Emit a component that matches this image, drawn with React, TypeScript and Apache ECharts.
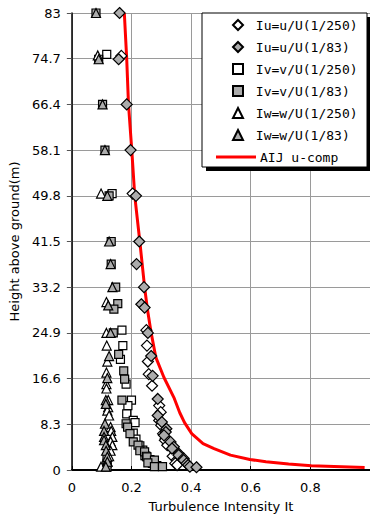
import React, { useEffect, useRef } from "react";
import * as echarts from "echarts";

// Axis ticks
const xTicks = [0, 0.2, 0.4, 0.6, 0.8, 1.0];
const yTicks = [0, 8.3, 16.6, 24.9, 33.2, 41.5, 49.8, 58.1, 66.4, 74.7, 83];

// Measured profiles: [turbulence intensity, height (m)]
const iu250: [number, number][] = [
  [0.166, 75.2], [0.204, 50.2], [0.25, 25.4], [0.252, 22.6], [0.255, 19.7],
  [0.258, 17.4], [0.269, 15.3], [0.293, 11.7], [0.298, 10.5], [0.293, 9.0],
  [0.3, 8.1], [0.306, 6.6], [0.315, 5.7], [0.312, 5.4], [0.32, 4.5],
  [0.347, 3.3], [0.338, 2.5], [0.352, 1.8], [0.347, 1.2], [0.353, 0.9],
];
const iu83: [number, number][] = [
  [0.16, 83], [0.157, 74.6], [0.184, 66.4], [0.197, 58.1], [0.215, 49.8],
  [0.226, 41.5], [0.217, 37.4], [0.242, 33.2], [0.233, 30.1], [0.244, 29.5],
  [0.255, 24.9], [0.266, 20.7], [0.271, 17.1], [0.288, 12.9], [0.288, 9.9],
  [0.302, 8.7], [0.317, 7.5], [0.315, 6.9], [0.309, 6.3], [0.331, 5.1],
  [0.342, 4.2], [0.336, 3.9], [0.358, 3.0], [0.358, 2.7], [0.375, 2.1],
  [0.375, 1.8], [0.385, 1.2], [0.39, 0.9], [0.396, 0.6], [0.418, 0.5],
];
const iv250: [number, number][] = [
  [0.117, 75.5], [0.135, 50.2], [0.168, 25.4], [0.171, 22.6], [0.163, 20.1],
  [0.182, 15.6], [0.2, 12.7], [0.188, 11.7], [0.184, 10.2], [0.206, 9.0],
  [0.212, 8.6], [0.206, 6.7], [0.215, 5.6], [0.228, 4.4], [0.238, 3.6],
  [0.245, 2.6], [0.262, 1.9], [0.27, 1.2], [0.285, 0.8],
];
const iv83: [number, number][] = [
  [0.081, 83], [0.09, 74.6], [0.103, 66.4], [0.111, 58.1], [0.125, 49.8],
  [0.132, 41.5], [0.132, 37.4], [0.147, 33.2], [0.154, 30.2], [0.141, 29.2],
  [0.139, 24.9], [0.157, 21.0], [0.174, 18.0], [0.177, 16.5], [0.168, 12.7],
  [0.182, 8.4], [0.187, 7.8], [0.195, 6.6], [0.206, 5.1], [0.222, 4.5],
  [0.228, 3.5], [0.244, 3.3], [0.25, 2.5], [0.252, 2.4], [0.277, 1.8],
  [0.255, 1.3], [0.277, 0.6], [0.304, 0.6], [0.118, 2.0], [0.118, 1.2],
  [0.118, 0.5],
];
const iw250: [number, number][] = [
  [0.087, 75.3], [0.098, 50.2], [0.116, 30.5], [0.116, 24.9], [0.117, 22.6],
  [0.119, 19.7], [0.116, 17.7], [0.116, 15.6], [0.116, 14.8], [0.122, 12.7],
  [0.122, 11.4], [0.119, 10.8], [0.125, 9.9], [0.13, 7.8], [0.132, 7.1],
  [0.136, 6.0], [0.13, 5.2], [0.136, 4.5], [0.13, 3.5], [0.125, 2.5],
  [0.12, 1.5], [0.098, 0.6],
];
const iw83: [number, number][] = [
  [0.081, 83], [0.09, 74.6], [0.103, 66.4], [0.111, 58.1], [0.119, 49.8],
  [0.125, 41.5], [0.13, 37.4], [0.136, 33.2], [0.122, 29.9], [0.13, 24.9],
  [0.125, 20.7], [0.119, 16.7], [0.114, 12.7], [0.114, 12.0], [0.111, 8.4],
  [0.108, 7.1], [0.108, 6.0], [0.108, 5.4], [0.114, 4.5], [0.115, 3.5],
  [0.119, 2.4], [0.119, 1.5], [0.114, 0.6],
];

// AIJ recommended profile (u-component)
const aijName = "AIJ u-comp";
const aij: [number, number][] = [
  [0.176, 83], [0.184, 74.7], [0.19, 66.4], [0.201, 58.1], [0.211, 49.8],
  [0.228, 41.5], [0.244, 33.2], [0.254, 29], [0.266, 24.9], [0.282, 20.4],
  [0.309, 16.8], [0.342, 13.2], [0.362, 10.4], [0.378, 8.6], [0.402, 6.6],
  [0.44, 4.8], [0.477, 3.9], [0.532, 2.7], [0.597, 1.9], [0.651, 1.5],
  [0.727, 1.1], [0.803, 0.78], [0.982, 0.47],
];

const GRAY = "#acacac";
const RED = "#ff0000";
const LABEL_FONT = "DejaVu Sans";
const LEGEND_FONT = "DejaVu Sans Mono";

const scatterDefs = [
  { name: "Iu=u/U(1/250)", data: iu250, symbol: "diamond", size: 11, fill: "#ffffff" },
  { name: "Iu=u/U(1/83)", data: iu83, symbol: "diamond", size: 11, fill: GRAY },
  { name: "Iv=v/U(1/250)", data: iv250, symbol: "rect", size: 8, fill: "#ffffff" },
  { name: "Iv=v/U(1/83)", data: iv83, symbol: "rect", size: 8, fill: GRAY },
  { name: "Iw=w/U(1/250)", data: iw250, symbol: "triangle", size: 9, fill: "#ffffff" },
  { name: "Iw=w/U(1/83)", data: iw83, symbol: "triangle", size: 9, fill: GRAY },
];

const fmt = (v: number) => {
  const s = (Math.round(v * 10) / 10).toFixed(1);
  return s.endsWith(".0") ? s.slice(0, -2) : s;
};

export default function App() {
  const ref = useRef<HTMLDivElement>(null);

  useEffect(() => {
    if (!ref.current) return;
    const chart = echarts.init(ref.current, undefined, { renderer: "svg" });

    const legendText = { fontFamily: LEGEND_FONT, fontSize: 13, color: "#000", lineHeight: 14 };

    const option: any = {
      animation: false,
      backgroundColor: "#ffffff",
      grid: { left: 67, right: -4, top: 13, bottom: 45, containLabel: false },
      xAxis: {
        type: "value",
        min: xTicks[0],
        max: xTicks[xTicks.length - 1],
        interval: xTicks[1] - xTicks[0],
        name: "Turbulence Intensity It",
        nameLocation: "middle",
        nameGap: 30,
        nameTextStyle: { fontFamily: LABEL_FONT, fontSize: 13, color: "#000" },
        axisLine: { show: true, onZero: false, lineStyle: { color: "#000", width: 2 } },
        axisTick: { show: true, inside: true, length: 4, lineStyle: { color: "#000" } },
        axisLabel: {
          showMaxLabel: false,
          margin: 11,
          fontFamily: LABEL_FONT,
          fontSize: 13,
          color: "#000",
          formatter: (v: number) => fmt(v),
        },
        splitLine: { show: true, lineStyle: { color: "#9a9a9a", width: 1 } },
      },
      yAxis: {
        type: "value",
        min: yTicks[0],
        max: yTicks[yTicks.length - 1],
        interval: yTicks[1] - yTicks[0],
        name: "Height above ground(m)",
        nameLocation: "middle",
        nameGap: 42,
        nameTextStyle: { fontFamily: LABEL_FONT, fontSize: 13, color: "#000" },
        axisLine: { show: true, onZero: false, lineStyle: { color: "#000", width: 1.5 } },
        axisTick: { show: true, inside: false, length: 5, lineStyle: { color: "#555" } },
        axisLabel: {
          margin: 11,
          fontFamily: LABEL_FONT,
          fontSize: 13,
          color: "#000",
          formatter: (v: number) => fmt(v),
        },
        splitLine: { show: true, lineStyle: { color: "#9a9a9a", width: 1 } },
      },
      legend: {
        orient: "vertical",
        left: 232,
        top: 18,
        padding: 0,
        itemWidth: 10,
        itemHeight: 10,
        itemGap: 8,
        selectedMode: false,
        z: 8,
        textStyle: legendText,
        formatter: (name: string) => " " + name,
        data: scatterDefs.map((d) => ({ name: d.name, icon: d.symbol })),
      },
      graphic: [
        {
          type: "rect",
          z: 5,
          shape: { x: 206, y: 17, width: 165, height: 154 },
          style: { fill: "#000" },
        },
        {
          type: "rect",
          z: 6,
          shape: { x: 202, y: 13, width: 165, height: 154 },
          style: { fill: "#fff", stroke: "#000", lineWidth: 1 },
        },
        // legend entry for the AIJ curve
        {
          type: "line",
          z: 8,
          shape: { x1: 216, y1: 157, x2: 256, y2: 157 },
          style: { stroke: RED, lineWidth: 3 },
        },
        {
          type: "text",
          z: 8,
          x: 260,
          y: 157,
          style: {
            text: aijName,
            fill: "#000",
            font: `13px "${LEGEND_FONT}"`,
            verticalAlign: "middle",
            align: "left",
          },
        },
      ],
      series: [
        {
          name: aijName,
          type: "line",
          data: aij,
          symbol: "none",
          z: 1,
          lineStyle: { color: RED, width: 3 },
          itemStyle: { color: RED },
        },
        ...scatterDefs.map((d) => ({
          name: d.name,
          type: "scatter",
          data: d.data,
          symbol: d.symbol,
          symbolSize: d.size,
          z: 3,
          itemStyle: { color: d.fill, borderColor: "#000", borderWidth: 1.2, opacity: 1 },
        })),
      ],
    };

    chart.setOption(option);
    return () => chart.dispose();
  }, []);

  return (
    <div
      ref={ref}
      style={{ position: "absolute", left: 0, top: 0, width: 370, height: 518 }}
    />
  );
}
